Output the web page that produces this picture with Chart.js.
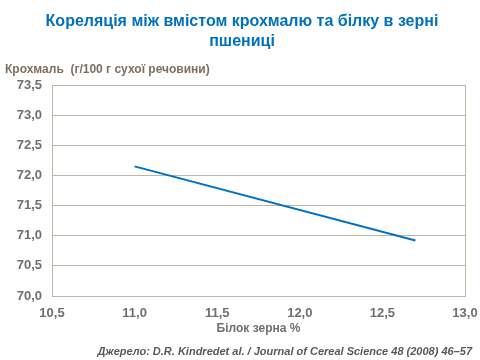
<!DOCTYPE html>
<html>
<head>
<meta charset="utf-8">
<script src="https://cdn.jsdelivr.net/npm/chart.js@4/dist/chart.umd.min.js"></script>
<style>
html,body{margin:0;padding:0;background:#fff;}
#wrap{width:480px;height:360px;position:relative;}
</style>
</head>
<body>
<div id="wrap"><canvas id="c" width="480" height="360"></canvas></div>
<script>
const chartTitle = ['Кореляція між вмістом крохмалю та білку в зерні', 'пшениці'];
const yAxisLabel = 'Крохмаль  (г/100 г сухої речовини)';
const xAxisLabel = 'Білок зерна %';
const sourceText = 'Джерело: D.R. Kindredet al. / Journal of Cereal Science 48 (2008) 46–57';
const proteinX = [11.0, 12.7];
const starchY = [72.15, 70.92];
const xMin = 10.5, xMax = 13.0, xStep = 0.5;
const yMin = 70.0, yMax = 73.5, yStep = 0.5;

const gridColor = '#BFB6A8';
const fmt = v => v.toFixed(1).replace('.', ',');

const extraText = {
  id: 'extraText',
  afterDraw(chart) {
    const ctx = chart.ctx;
    const a = chart.chartArea;
    ctx.save();
    ctx.strokeStyle = gridColor;
    ctx.lineWidth = 1;
    ctx.strokeRect(Math.round(a.left) + 0.5, Math.round(a.top) + 0.5, Math.round(a.right - a.left), Math.round(a.bottom - a.top));
    ctx.fillStyle = '#0070C0';
    ctx.font = 'bold 16px "Liberation Sans", Arial, sans-serif';
    ctx.textAlign = 'center';
    ctx.textBaseline = 'middle';
    chartTitle.forEach((t, i) => ctx.fillText(t, 242, 22 + i * 20));
    ctx.fillStyle = '#7F6E60';
    ctx.font = 'bold 12px "Liberation Sans", Arial, sans-serif';
    ctx.textAlign = 'left';
    ctx.fillText(yAxisLabel, 5, 70);
    ctx.fillStyle = '#595959';
    ctx.font = 'italic bold 11px "Liberation Sans", Arial, sans-serif';
    ctx.textAlign = 'right';
    ctx.fillText(sourceText, 472, 352);
    ctx.restore();
  }
};

new Chart(document.getElementById('c'), {
  type: 'scatter',
  data: {
    datasets: [{
      data: proteinX.map((x, i) => ({x: x, y: starchY[i]})),
      showLine: true,
      borderColor: '#0070C0',
      borderWidth: 2,
      pointRadius: 0,
      fill: false
    }]
  },
  options: {
    responsive: false,
    animation: false,
    layout: {padding: {left: 0, right: 15, top: 85, bottom: 24}},
    plugins: {
      legend: {display: false},
      tooltip: {enabled: false},
      title: {display: false}
    },
    scales: {
      x: {
        type: 'linear',
        min: xMin, max: xMax,
        afterFit(s) { s.height = 40; s.paddingRight = 0; s.paddingLeft = 0; },
        grid: {display: false, drawTicks: false},
        border: {display: false},
        ticks: {
          stepSize: xStep,
          padding: 10,
          color: '#6F6F6F',
          font: {family: '"Liberation Sans", Arial, sans-serif', size: 13, weight: 'bold'},
          callback: v => fmt(v)
        },
        title: {
          display: true,
          text: xAxisLabel,
          color: '#6F6F6F',
          font: {family: '"Liberation Sans", Arial, sans-serif', size: 12, weight: 'bold'},
          padding: {top: 0, bottom: 0}
        }
      },
      y: {
        min: yMin, max: yMax,
        afterFit(s) { s.width = 52; s.paddingTop = 0; s.paddingBottom = 0; },
        grid: {color: gridColor, lineWidth: 1, drawTicks: false},
        border: {display: false},
        ticks: {
          stepSize: yStep,
          padding: 10,
          color: '#6F6F6F',
          font: {family: '"Liberation Sans", Arial, sans-serif', size: 13, weight: 'bold'},
          callback: v => fmt(v)
        }
      }
    }
  },
  plugins: [extraText]
});
</script>
</body>
</html>
